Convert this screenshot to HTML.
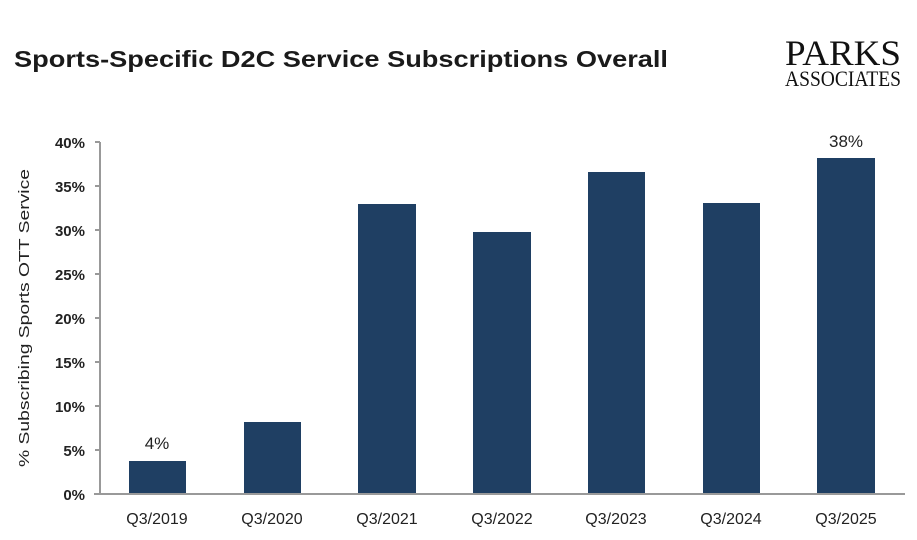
<!DOCTYPE html>
<html><head><style>
body{margin:0;background:#fff;width:917px;height:535px;overflow:hidden;font-family:"Liberation Sans",sans-serif;}
</style></head><body>
<svg width="917" height="535" xmlns="http://www.w3.org/2000/svg" font-family="Liberation Sans, sans-serif">
<text x="14" y="67" font-size="23" font-weight="bold" fill="#1a1a1a" textLength="654" lengthAdjust="spacingAndGlyphs">Sports-Specific D2C Service Subscriptions Overall</text>
<text x="843" y="65" font-size="36" font-family="Liberation Serif, serif" fill="#111" text-anchor="middle" textLength="116" lengthAdjust="spacingAndGlyphs">PARKS</text>
<text x="843" y="86" font-size="22" font-family="Liberation Serif, serif" fill="#111" text-anchor="middle" textLength="116" lengthAdjust="spacingAndGlyphs">ASSOCIATES</text>
<g fill="#1f3f63">
<rect x="129" y="461" width="57" height="33"/>
<rect x="244" y="422" width="57" height="72"/>
<rect x="358" y="204" width="58" height="290"/>
<rect x="473" y="232" width="58" height="262"/>
<rect x="588" y="172" width="57" height="322"/>
<rect x="703" y="203" width="57" height="291"/>
<rect x="817" y="158" width="58" height="336"/>
</g>
<g stroke="#999" stroke-width="2">
<line x1="100" y1="142" x2="100" y2="494"/>
<line x1="94" y1="494" x2="905" y2="494"/>
<line x1="95" y1="142" x2="100" y2="142"/><line x1="95" y1="186" x2="100" y2="186"/>
<line x1="95" y1="230" x2="100" y2="230"/><line x1="95" y1="274" x2="100" y2="274"/>
<line x1="95" y1="318" x2="100" y2="318"/><line x1="95" y1="362" x2="100" y2="362"/>
<line x1="95" y1="406" x2="100" y2="406"/><line x1="95" y1="450" x2="100" y2="450"/>
</g>
<g font-size="15" fill="#222" text-anchor="end" font-weight="bold">
<text x="85" y="148">40%</text><text x="85" y="192">35%</text><text x="85" y="236">30%</text>
<text x="85" y="280">25%</text><text x="85" y="324">20%</text><text x="85" y="368">15%</text>
<text x="85" y="412">10%</text><text x="85" y="456">5%</text><text x="85" y="500">0%</text>
</g>
<g font-size="16" fill="#222" text-anchor="middle">
<text x="157" y="524">Q3/2019</text><text x="272" y="524">Q3/2020</text><text x="387" y="524">Q3/2021</text>
<text x="502" y="524">Q3/2022</text><text x="616" y="524">Q3/2023</text><text x="731" y="524">Q3/2024</text>
<text x="846" y="524">Q3/2025</text>
<text x="157" y="449" font-size="17">4%</text><text x="846" y="147" font-size="17">38%</text>
</g>
<text transform="translate(29,318) rotate(-90)" font-size="15" fill="#222" text-anchor="middle" textLength="298" lengthAdjust="spacingAndGlyphs">% Subscribing Sports OTT Service</text>
</svg>
</body></html>
